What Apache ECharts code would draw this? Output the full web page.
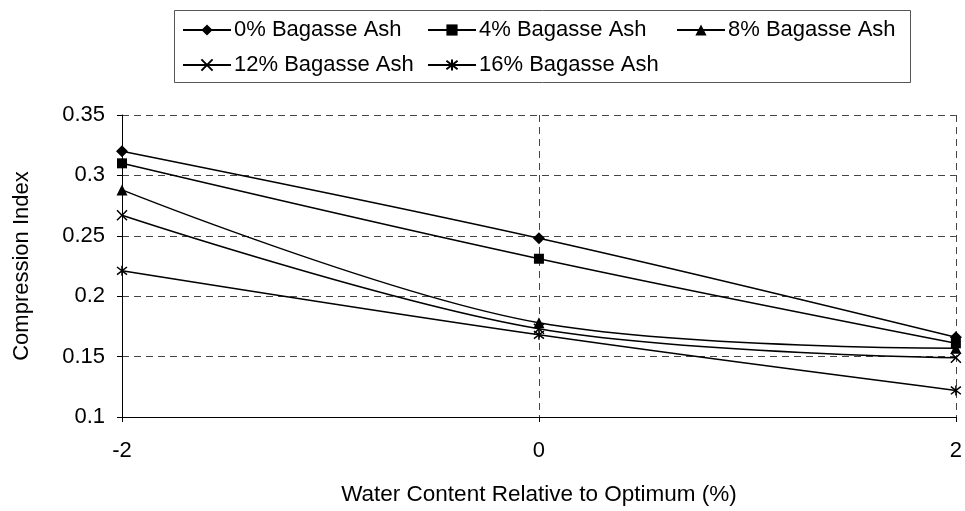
<!DOCTYPE html>
<html>
<head>
<meta charset="utf-8">
<script src="https://cdn.jsdelivr.net/npm/echarts@6/dist/echarts.min.js"></script>
<style>html,body{margin:0;padding:0;background:#fff;}#c{width:965px;height:511px;}</style>
</head>
<body>
<div id="c"></div>
<script>
var xValues = [-2, 0, 2];
var seriesNames = ['0% Bagasse Ash', '4% Bagasse Ash', '8% Bagasse Ash', '12% Bagasse Ash', '16% Bagasse Ash'];
var ash0 = [0.320, 0.248, 0.166];
var ash4 = [0.310, 0.231, 0.161];
var ash8 = [0.288, 0.178, 0.157];
var ash12 = [0.267, 0.173, 0.149];
var ash16 = [0.221, 0.168, 0.122];
var yTicks = [0.1, 0.15, 0.2, 0.25, 0.3, 0.35];
var xTicks = [-2, 0, 2];

var FONT = 'Liberation Sans, Arial, sans-serif';
var allData = [ash0, ash4, ash8, ash12, ash16];
var symbols = [
  'diamond',
  'rect',
  'triangle',
  'path://M0,0L10,10M10,0L0,10',
  'path://M0,0L10,10M10,0L0,10M5,-1.5L5,11.5'
];
var symSizes = [12, 10, 11, 10, 10];

var series = seriesNames.map(function (n, i) {
  var pts = xValues.map(function (x, j) { return [x, allData[i][j]]; });
  var stroke = i >= 3;
  return {
    name: n,
    type: 'line',
    data: pts,
    smooth: 0.35,
    symbol: symbols[i],
    symbolSize: symSizes[i],
    showAllSymbol: true,
    lineStyle: { color: '#000', width: 1.5 },
    itemStyle: stroke ? { color: 'rgba(0,0,0,0)', borderColor: '#000', borderWidth: 1.5 } : { color: '#000', borderWidth: 0 },
    emphasis: { disabled: true },
    z: 3
  };
});

var legendPos = [
  { left: 182, top: 19 },
  { left: 427, top: 19 },
  { left: 676, top: 19 },
  { left: 182, top: 54 },
  { left: 427, top: 54 }
];
var legends = seriesNames.map(function (n, i) {
  return {
    data: [n],
    left: legendPos[i].left,
    top: legendPos[i].top,
    itemWidth: 48,
    itemHeight: 14,
    itemGap: 0,
    padding: 0,
    selectedMode: false,
    textStyle: { fontFamily: FONT, fontSize: 22, color: '#000', padding: [0, 0, 0, -2] }
  };
});

var chart = echarts.init(document.getElementById('c'), null, { renderer: 'canvas' });
chart.setOption({
  animation: false,
  backgroundColor: '#fff',
  legend: legends,
  graphic: [{
    type: 'rect',
    shape: { x: 174.5, y: 10.5, width: 736, height: 72 },
    style: { fill: 'none', stroke: '#555', lineWidth: 1 },
    z: 0
  }],
  grid: { left: 122, right: 6, top: 115, bottom: 93, containLabel: false },
  xAxis: {
    type: 'value',
    min: xTicks[0],
    max: xTicks[xTicks.length - 1],
    interval: 2,
    name: 'Water Content Relative to Optimum (%)',
    nameLocation: 'middle',
    nameGap: 66,
    nameTextStyle: { fontFamily: FONT, fontSize: 22.5, color: '#000' },
    axisLine: { show: true, onZero: false, lineStyle: { color: '#000', width: 1 } },
    axisTick: { show: true, length: 5, lineStyle: { color: '#000' } },
    axisLabel: { fontFamily: FONT, fontSize: 22, color: '#000', margin: 23 },
    splitLine: { show: true, lineStyle: { color: '#444', type: [7, 5], width: 1 } }
  },
  yAxis: {
    type: 'value',
    min: yTicks[0],
    max: yTicks[yTicks.length - 1],
    interval: 0.05,
    name: 'Compression Index',
    nameLocation: 'middle',
    nameGap: 89,
    nameTextStyle: { fontFamily: FONT, fontSize: 22, color: '#000' },
    axisLine: { show: true, onZero: false, lineStyle: { color: '#000', width: 1 } },
    axisTick: { show: true, length: 5, lineStyle: { color: '#000' } },
    axisLabel: { fontFamily: FONT, fontSize: 22, color: '#000', margin: 17,
      formatter: function (v) { return String(parseFloat(v.toFixed(2))); } },
    splitLine: { show: true, lineStyle: { color: '#444', type: [7, 5], width: 1 } }
  },
  series: series
});
</script>
</body>
</html>
